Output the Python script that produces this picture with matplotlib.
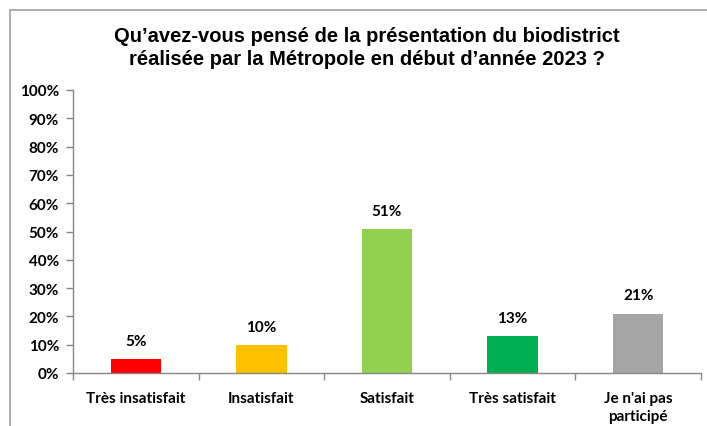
import matplotlib
matplotlib.use("Agg")
import matplotlib.pyplot as plt
from matplotlib.patches import Rectangle

categories = ["Très insatisfait", "Insatisfait", "Satisfait", "Très satisfait", "Je n'ai pas\nparticipé"]
values = [5, 10, 51, 13, 21]
colors = ["#FF0000", "#FFC000", "#92D050", "#00B050", "#A5A5A5"]
yticks = [0, 10, 20, 30, 40, 50, 60, 70, 80, 90, 100]
title = "Qu’avez-vous pensé de la présentation du biodistrict\nréalisée par la Métropole en début d’année 2023 ?"

W, H = 707, 427
fig = plt.figure(figsize=(W / 100, H / 100), dpi=100)
fig.patch.set_facecolor("white")

# outer chart border (cropped at right/bottom)
fig.patches.append(Rectangle((10 / W, -0.2), 1.2, (H - 11) / H + 0.2, transform=fig.transFigure,
                             fill=False, edgecolor="#A6A6A6", linewidth=1.3, clip_on=False))

ax = fig.add_axes([73 / W, (H - 374) / H, (701 - 73) / W, (374 - 91) / H])
x = list(range(len(categories)))
ax.bar(x, values, width=0.4, color=colors, zorder=2)
ax.set_xlim(-0.5, len(categories) - 0.5)
ax.set_ylim(0, 100)
ax.set_yticks(yticks)
ax.set_yticklabels([f"{v}%" for v in yticks])
ax.set_xticks(x)
ax.set_xticklabels(categories)
ax.set_xticks([i - 0.5 for i in range(len(categories) + 1)], minor=True)

font = "Lato"
for lab in ax.get_yticklabels():
    lab.set_fontfamily(font); lab.set_fontweight("bold"); lab.set_fontsize(11)
for lab in ax.get_xticklabels():
    lab.set_fontfamily(font); lab.set_fontweight("bold"); lab.set_fontsize(11)
    lab.set_linespacing(1.4)

ax.tick_params(axis="y", direction="out", length=5, width=1, color="#868686", pad=5)
ax.tick_params(axis="x", which="major", length=0, pad=13)
ax.tick_params(axis="x", which="minor", direction="out", length=5, width=1, color="#868686")

for s in ["top", "right"]:
    ax.spines[s].set_visible(False)
for s in ["left", "bottom"]:
    ax.spines[s].set_color("#868686")
    ax.spines[s].set_linewidth(1)

for xi, v in zip(x, values):
    ax.annotate(f"{v}%", (xi, v), xytext=(0, 8), textcoords="offset points",
                ha="center", va="bottom", fontfamily=font, fontweight="bold", fontsize=11)

fig.text(367 / W, 1 - 48 / H, title, ha="center", va="center", fontfamily="Liberation Sans",
         fontweight="bold", fontsize=14.5, linespacing=1.28)

fig.savefig("out.png", dpi=100)
